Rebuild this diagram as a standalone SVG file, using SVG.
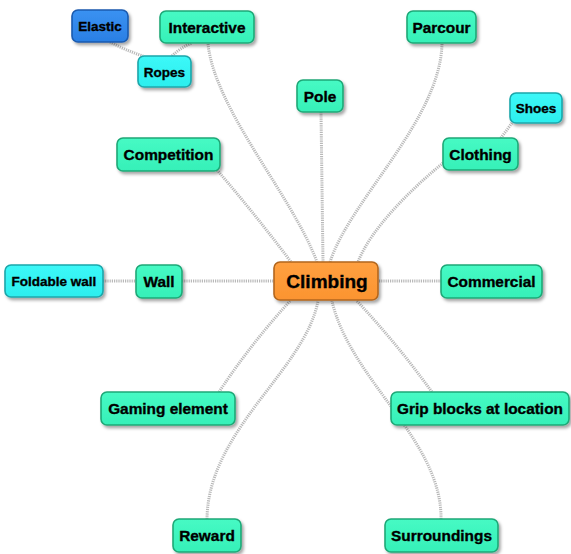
<svg xmlns="http://www.w3.org/2000/svg" width="571" height="554" viewBox="0 0 571 554">
  <defs>
    <filter id="shadow" x="-20%" y="-30%" width="140%" height="170%">
      <feDropShadow dx="2" dy="2.5" stdDeviation="1.6" flood-color="#000" flood-opacity="0.35"/>
    </filter>
    <linearGradient id="gMint" x1="0" y1="0" x2="0" y2="1">
      <stop offset="0" stop-color="#46fac4"/>
      <stop offset="1" stop-color="#36f0b8"/>
    </linearGradient>
    <linearGradient id="gCyan" x1="0" y1="0" x2="0" y2="1">
      <stop offset="0" stop-color="#3cf8f8"/>
      <stop offset="1" stop-color="#2ceeee"/>
    </linearGradient>
    <linearGradient id="gBlue" x1="0" y1="0" x2="0" y2="1">
      <stop offset="0" stop-color="#3a92f2"/>
      <stop offset="1" stop-color="#2a7fe4"/>
    </linearGradient>
    <linearGradient id="gOrange" x1="0" y1="0" x2="0" y2="1">
      <stop offset="0" stop-color="#ffa040"/>
      <stop offset="1" stop-color="#fb9430"/>
    </linearGradient>
  </defs>
  <style>
    .link { fill: none; stroke: #b8b8b8; stroke-width: 3; stroke-dasharray: 1.2 1; }
    .box { stroke-width: 1.6; filter: url(#shadow); }
    .mint { fill: url(#gMint); stroke: #1fa877; }
    .cyan { fill: url(#gCyan); stroke: #1ca6aa; }
    .blue { fill: url(#gBlue); stroke: #1a5aae; }
    .orange { fill: url(#gOrange); stroke: #b2661e; }
    text { font-family: "Liberation Sans", Arial, sans-serif; font-weight: bold; fill: #000; stroke: #000; stroke-width: 0.35; text-anchor: middle; }
    .t15 { font-size: 15.4px; }
    .t13 { font-size: 13.5px; }
    .t19 { font-size: 19px; }
  </style>

  <g id="connectors">
    <path class="link" d="M 110 42 Q 125 50 143 56"/>
    <path class="link" d="M 172 56 Q 180 48 192 43"/>
    <path class="link" d="M 512 123 Q 506 131 500 139"/>
    <path class="link" d="M 103 281 L 136 281"/>
    <path class="link" d="M 182 281 L 274 281"/>
    <path class="link" d="M 379 281 L 441 281"/>
    <path class="link" d="M 217 170 Q 255 214 291 262"/>
    <path class="link" d="M 208 44 C 215 110 292 195 317 262"/>
    <path class="link" d="M 321 112 L 323 262"/>
    <path class="link" d="M 442 44 C 440 120 350 200 330 262"/>
    <path class="link" d="M 443 163 C 410 190 370 230 358 262"/>
    <path class="link" d="M 219 392 Q 250 345 290 301"/>
    <path class="link" d="M 207 519 C 208 430 305 370 318 301"/>
    <path class="link" d="M 441 519 C 442 440 350 380 332 301"/>
    <path class="link" d="M 357 301 Q 398 345 432 392"/>
  </g>

  <g id="node-elastic">
    <rect class="box blue" x="72" y="10" width="56" height="32" rx="6"/>
    <text class="t13" x="100" y="31">Elastic</text>
  </g>
  <g id="node-interactive">
    <rect class="box mint" x="160" y="11" width="94" height="32" rx="6"/>
    <text class="t15" x="207" y="32.5">Interactive</text>
  </g>
  <g id="node-ropes">
    <rect class="box cyan" x="138" y="56" width="53" height="31" rx="6"/>
    <text class="t13" x="164.5" y="76.5">Ropes</text>
  </g>
  <g id="node-parcour">
    <rect class="box mint" x="407" y="11" width="69" height="32" rx="6"/>
    <text class="t15" x="441.5" y="32.5">Parcour</text>
  </g>
  <g id="node-pole">
    <rect class="box mint" x="297" y="80" width="46" height="32" rx="6"/>
    <text class="t15" x="320" y="101.5">Pole</text>
  </g>
  <g id="node-shoes">
    <rect class="box cyan" x="510" y="93" width="52" height="30" rx="6"/>
    <text class="t13" x="536" y="113">Shoes</text>
  </g>
  <g id="node-competition">
    <rect class="box mint" x="117" y="138" width="103" height="33" rx="6"/>
    <text class="t15" x="168.5" y="160">Competition</text>
  </g>
  <g id="node-clothing">
    <rect class="box mint" x="443" y="138" width="75" height="32" rx="6"/>
    <text class="t15" x="480.5" y="159.5">Clothing</text>
  </g>
  <g id="node-foldable-wall">
    <rect class="box cyan" x="5" y="265" width="98" height="32" rx="6"/>
    <text class="t13" x="54" y="286">Foldable wall</text>
  </g>
  <g id="node-wall">
    <rect class="box mint" x="136" y="265" width="46" height="33" rx="6"/>
    <text class="t15" x="159" y="287">Wall</text>
  </g>
  <g id="node-climbing">
    <rect class="box orange" x="274" y="262" width="104" height="38" rx="6"/>
    <text class="t19" x="327" y="288">Climbing</text>
  </g>
  <g id="node-commercial">
    <rect class="box mint" x="441" y="265" width="101" height="33" rx="6"/>
    <text class="t15" x="491.5" y="287">Commercial</text>
  </g>
  <g id="node-gaming-element">
    <rect class="box mint" x="101" y="392" width="134" height="33" rx="6"/>
    <text class="t15" x="168" y="414">Gaming element</text>
  </g>
  <g id="node-grip-blocks">
    <rect class="box mint" x="391" y="392" width="178" height="33" rx="6"/>
    <text class="t15" x="480" y="414">Grip blocks at location</text>
  </g>
  <g id="node-reward">
    <rect class="box mint" x="173" y="519" width="68" height="33" rx="6"/>
    <text class="t15" x="207" y="541">Reward</text>
  </g>
  <g id="node-surroundings">
    <rect class="box mint" x="385" y="519" width="113" height="33" rx="6"/>
    <text class="t15" x="441.5" y="541">Surroundings</text>
  </g>
</svg>
